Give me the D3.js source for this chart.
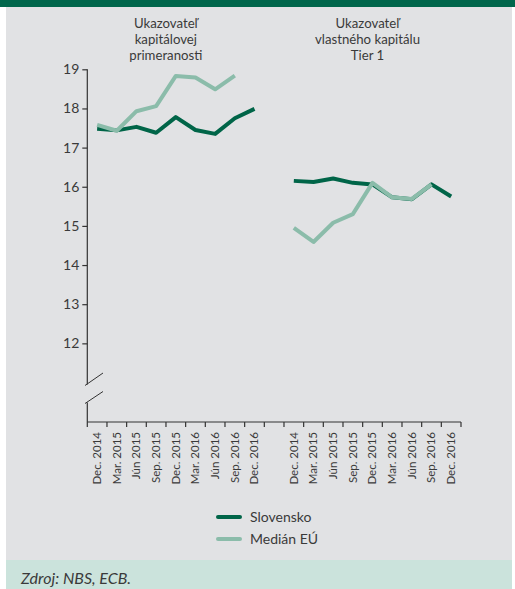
<!DOCTYPE html>
<html>
<head>
<meta charset="utf-8">
<script src="https://cdn.jsdelivr.net/npm/d3@7/dist/d3.min.js"></script>
<style>
  html, body { margin: 0; padding: 0; background: #ffffff; }
  svg { display: block; }
  text { font-family: "Lato", "Open Sans", sans-serif; fill: #3a3a3a; }
</style>
</head>
<body>
<div id="chart"></div>
<script>
// Quarter labels shared by both panels
const quarters = ["Dec. 2014", "Mar. 2015", "Jún 2015", "Sep. 2015", "Dec. 2015",
                  "Mar. 2016", "Jún 2016", "Sep. 2016", "Dec. 2016"];

// Total capital ratio (%)
const carSlovensko = [17.48, 17.44, 17.53, 17.38, 17.78, 17.45, 17.35, 17.75, 17.99];
const carMedianEU  = [17.58, 17.43, 17.93, 18.06, 18.83, 18.79, 18.49, 18.84, null];

// Tier 1 capital ratio (%)
const t1Slovensko = [16.15, 16.12, 16.21, 16.10, 16.06, 15.73, 15.68, 16.06, 15.75];
const t1MedianEU  = [14.95, 14.59, 15.08, 15.30, 16.10, 15.73, 15.69, 16.06, null];

const yTicks = [12, 13, 14, 15, 16, 17, 18, 19];

const panelTitles = [
  ["Ukazovateľ", "kapitálovej", "primeranosti"],
  ["Ukazovateľ", "vlastného kapitálu", "Tier 1"]
];

const seriesNames = ["Slovensko", "Medián EÚ"];
const colors = { dark: "#006548", light: "#8bbcaa" };

const W = 515, H = 589;
const svg = d3.select("#chart").append("svg").attr("width", W).attr("height", H);

// Backgrounds
svg.append("rect").attr("x", 6).attr("y", 0).attr("width", W - 9).attr("height", 560).attr("fill", "#e1e2e4");
svg.append("rect").attr("x", 6).attr("y", 560).attr("width", W - 9).attr("height", 29).attr("fill", "#cbe3dc");
svg.append("rect").attr("x", 0).attr("y", 0).attr("width", W).attr("height", 7).attr("fill", "#00664b");

// One band axis: panel 1 categories, a spacer, panel 2 categories
const keys = quarters.map((q, i) => "a" + i).concat(["gap"], quarters.map((q, i) => "b" + i));
const x = d3.scaleBand().domain(keys).range([87.3, 461]).paddingInner(0).paddingOuter(0);

const y = d3.scaleLinear().domain([11, 19]).range([382.5, 69.3]);
const axisY = 422;

const g = svg.append("g");

// Y axis line with break marks
const axisColor = "#333";
g.append("line").attr("x1", 87.3).attr("x2", 87.3).attr("y1", y(19)).attr("y2", 384.5)
  .attr("stroke", axisColor).attr("stroke-width", 1.2);
g.append("line").attr("x1", 87.3).attr("x2", 87.3).attr("y1", 402.5).attr("y2", axisY)
  .attr("stroke", axisColor).attr("stroke-width", 1.2);
g.append("line").attr("x1", 85).attr("x2", 103).attr("y1", 385.5).attr("y2", 373)
  .attr("stroke", axisColor).attr("stroke-width", 1);
g.append("line").attr("x1", 85).attr("x2", 103).attr("y1", 403.5).attr("y2", 391.5)
  .attr("stroke", axisColor).attr("stroke-width", 1);

// Y ticks and labels
const yAxis = g.append("g").attr("transform", "translate(87.3,0)")
  .call(d3.axisLeft(y).tickValues(yTicks).tickSize(5).tickPadding(3).tickFormat(d3.format("d")));
yAxis.select(".domain").remove();
yAxis.selectAll(".tick line").attr("stroke", axisColor).attr("stroke-width", 1.2);
yAxis.selectAll(".tick text").attr("font-size", 14).attr("fill", "#3a3a3a")
  .style("font-family", "Lato, 'Open Sans', sans-serif");

// X axis: baseline plus ticks at every band edge
g.append("line").attr("x1", 87.3).attr("x2", 461).attr("y1", axisY).attr("y2", axisY)
  .attr("stroke", axisColor).attr("stroke-width", 1.2);
const edges = keys.map(k => x(k)).concat([x(keys[keys.length - 1]) + x.bandwidth()]);
g.selectAll(".xtick").data(edges).enter().append("line")
  .attr("x1", d => d).attr("x2", d => d).attr("y1", axisY).attr("y2", axisY + 5)
  .attr("stroke", axisColor).attr("stroke-width", 1.2);

// Rotated category labels
const labelKeys = keys.filter(k => k !== "gap");
g.selectAll(".xlab").data(labelKeys).enter().append("text")
  .attr("transform", k => `translate(${x(k) + x.bandwidth() / 2 + 4},${axisY + 10}) rotate(-90)`)
  .attr("text-anchor", "end")
  .attr("font-size", 11.5)
  .text(k => quarters[+k.slice(1)]);

// Lines
const line = d3.line()
  .defined(d => d.v !== null)
  .x(d => x(d.k) + x.bandwidth() / 2)
  .y(d => y(d.v));

function toPts(prefix, arr) { return arr.map((v, i) => ({ k: prefix + i, v })); }

const seriesDraw = [
  { pts: toPts("a", carSlovensko), c: colors.dark },
  { pts: toPts("b", t1Slovensko), c: colors.dark },
  { pts: toPts("a", carMedianEU), c: colors.light },
  { pts: toPts("b", t1MedianEU), c: colors.light }
];
seriesDraw.forEach(s => {
  g.append("path").datum(s.pts).attr("d", line)
    .attr("fill", "none").attr("stroke", s.c).attr("stroke-width", 4)
    .attr("stroke-linejoin", "round").attr("stroke-linecap", "butt");
});

// Panel titles, one text element per line
const titleX = [x("a4") + x.bandwidth() / 2 - 10, x("b4") + x.bandwidth() / 2 - 5];
panelTitles.forEach((lines, p) => {
  lines.forEach((ln, i) => {
    svg.append("text").attr("text-anchor", "middle").attr("font-size", 13.2)
      .attr("x", titleX[p]).attr("y", 28 + i * 16).text(ln);
  });
});

// Legend
const legend = svg.append("g");
seriesNames.forEach((name, i) => {
  const yy = 517 + i * 22;
  legend.append("line").attr("x1", 218).attr("x2", 240).attr("y1", yy).attr("y2", yy)
    .attr("stroke", i === 0 ? colors.dark : colors.light).attr("stroke-width", 4)
    .attr("stroke-linecap", "round");
  legend.append("text").attr("x", 250).attr("y", yy + 5).attr("font-size", 14).text(name);
});

// Source note
svg.append("text").attr("x", 21).attr("y", 584).attr("font-size", 16)
  .attr("font-style", "italic").text("Zdroj: NBS, ECB.");
</script>
</body>
</html>
